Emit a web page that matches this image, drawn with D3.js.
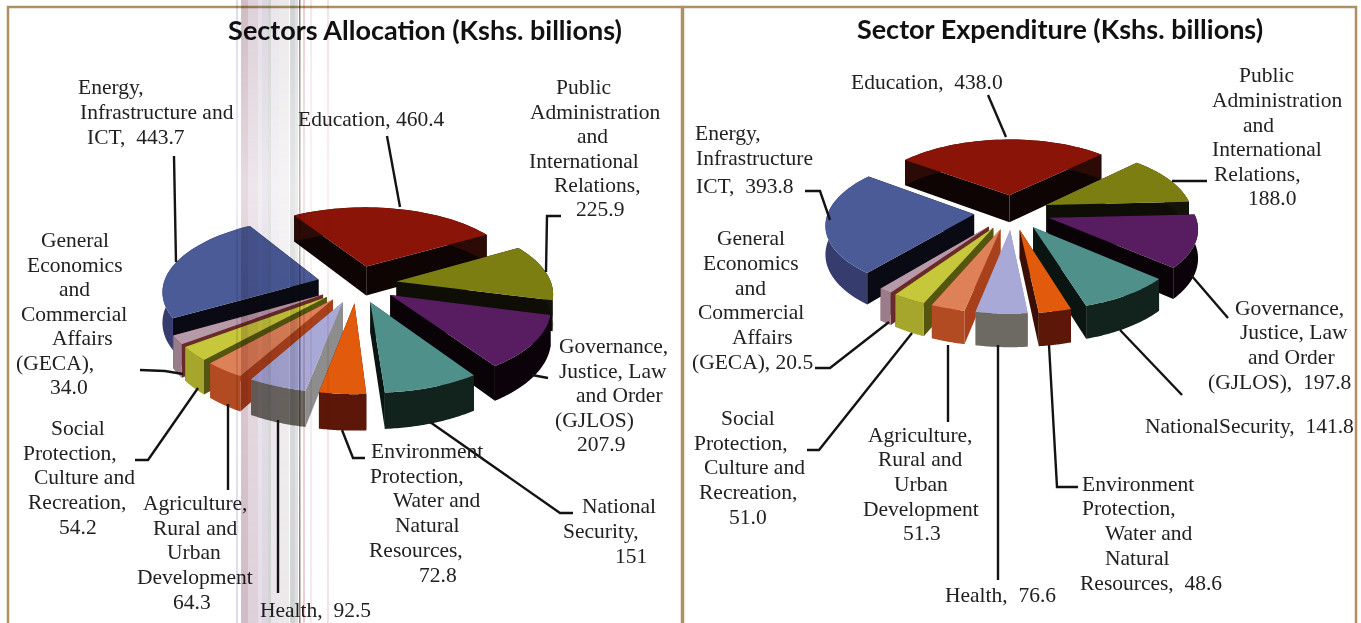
<!DOCTYPE html>
<html>
<head>
<meta charset="utf-8">
<title>Sectors Allocation and Expenditure</title>
<script src="https://cdnjs.cloudflare.com/ajax/libs/d3/7.8.5/d3.min.js"></script>
<style>
  html, body { margin: 0; padding: 0; background: #fff; overflow: hidden; }
  text { font-family: "Liberation Serif", serif; fill: #222020; }
  .title { font-family: Lato, sans-serif; font-weight: 700; fill: #111; }
</style>
</head>
<body>
<svg id="chart" width="1361" height="623"></svg>
<script>
// Data, clockwise from Education
const sectors = ['Education', 'Public Administration', 'Governance', 'National Security', 'Environment',
    'Health', 'Agriculture', 'Social Protection', 'GECA', 'Energy'];
const allocation = [460.4, 225.9, 207.9, 151, 72.8, 92.5, 64.3, 54.2, 34.0, 443.7];
const expenditure = [438.0, 188.0, 197.8, 141.8, 48.6, 76.6, 51.3, 51.0, 20.5, 393.8];

// Slice styles, same order as sectors
const topColors = ['#8a1407', '#7d7e12', '#581c60', '#50908a', '#e25a0c', '#a8a9d6', '#de8058', '#c6c73a', '#b79aa9', '#4a5b97'];
const sideColors = ['#0d0403', '#0e0e06', '#090207', '#0a1512', '#3c0f06', '#8d8d8d', '#a8401c', '#54560f', '#6b2a2a', '#0a0a14'];
const arcColors = ['#2c0b06', '#14140a', '#0b0309', '#12231d', '#5c1708', '#6d6963', '#b24a22', '#a5a62b', '#9b7c8b', '#363c6e'];

// Each label: lines of [text, x, baseline]
const leftLabels = [
    [['Energy,', 78, 94], ['Infrastructure and', 80, 119], ['ICT,  443.7', 87, 144]],
    [['Education, 460.4', 298, 126]],
    [['Public', 556, 94], ['Administration', 530, 119], ['and', 577, 143], ['International', 529, 168], ['Relations,', 554, 192], ['225.9', 576, 216]],
    [['General', 41, 247], ['Economics', 27, 272], ['and', 59, 296], ['Commercial', 21, 321], ['Affairs', 52, 345], ['(GECA),', 16, 370], ['34.0', 50, 394]],
    [['Social', 51, 435], ['Protection,', 23, 460], ['Culture and', 34, 484], ['Recreation,', 28, 509], ['54.2', 59, 534]],
    [['Agriculture,', 143, 510], ['Rural and', 153, 535], ['Urban', 167, 559], ['Development', 137, 584], ['64.3', 173, 609]],
    [['Health,  92.5', 260, 617]],
    [['Environment', 371, 458], ['Protection,', 370, 483], ['Water and', 393, 507], ['Natural', 395, 532], ['Resources,', 369, 557], ['72.8', 419, 582]],
    [['Governance,', 559, 353], ['Justice, Law', 559, 378], ['and Order', 576, 402], ['(GJLOS)', 555, 427], ['207.9', 577, 451]],
    [['National', 582, 513], ['Security,', 563, 538], ['151', 615, 563]]
];
const rightLabels = [
    [['Education,  438.0', 851, 89]],
    [['Public', 1239, 82], ['Administration', 1212, 107], ['and', 1243, 132], ['International', 1212, 156], ['Relations,', 1214, 181], ['188.0', 1248, 205]],
    [['Energy,', 695, 140], ['Infrastructure', 696, 165], ['ICT,  393.8', 696, 193]],
    [['General', 717, 245], ['Economics', 703, 270], ['and', 735, 295], ['Commercial', 698, 319], ['Affairs', 732, 344], ['(GECA), 20.5', 692, 369]],
    [['Social', 721, 425], ['Protection,', 694, 450], ['Culture and', 704, 474], ['Recreation,', 699, 499], ['51.0', 729, 524]],
    [['Agriculture,', 868, 442], ['Rural and', 878, 466], ['Urban', 894, 491], ['Development', 863, 516], ['51.3', 903, 540]],
    [['Health,  76.6', 945, 602]],
    [['Environment', 1082, 491], ['Protection,', 1082, 515], ['Water and', 1105, 540], ['Natural', 1105, 565], ['Resources,  48.6', 1080, 590]],
    [['Governance,', 1235, 315], ['Justice, Law', 1240, 339], ['and Order', 1248, 364], ['(GJLOS),  197.8', 1208, 389]],
    [['NationalSecurity,  141.8', 1145, 433]]
];

// Leader lines
const leftLeaders = [
    [[174, 156], [176, 262]], [[387, 136], [400, 207]], [[561, 216], [547, 216], [546, 272]],
    [[532, 375], [548, 378]], [[430, 422], [560, 513], [573, 513]], [[342, 430], [353, 458], [365, 458]],
    [[278, 420], [278, 593]], [[228, 404], [228, 490]], [[198, 388], [148, 460], [135, 460]],
    [[140, 370], [165, 371], [183, 374]]
];
const rightLeaders = [
    [[988, 95], [1006, 137]], [[1172, 181], [1207, 181]], [[805, 191], [820, 191], [830, 220]],
    [[1191, 275], [1228, 318]], [[1120, 330], [1182, 395]], [[1049, 345], [1057, 487], [1078, 487]],
    [[998, 345], [998, 580]], [[948, 345], [948, 422]], [[912, 333], [819, 450], [807, 450]],
    [[889, 322], [830, 368], [815, 368]]
];

// Ghost streaks from the scan: [x, width, colour, opacity]
const streaks = [
    [236, 2, '#c9c4de', 0.6], [241, 7, '#b0909c', 0.6], [248, 10, '#bda2b2', 0.5], [258, 4, '#d0c8da', 0.6],
    [262, 6, '#c0b5c6', 0.55], [268, 3, '#a2a8a0', 0.5], [271, 8, '#dbd3de', 0.6], [279, 10, '#e0dade', 0.6],
    [290, 5, '#b0b5b8', 0.6], [295, 3, '#c8c9d0', 0.6], [299, 1.5, '#85524a', 0.8], [303, 2, '#d8b0b5', 0.6],
    [310, 2, '#eed8dc', 0.6], [327, 2, '#eccfd5', 0.6]
];

const svg = d3.select('#chart');

// Streaks fade in the middle of the page
const defs = svg.append('defs');
const fade = defs.append('linearGradient').attr('id', 'streak-fade')
    .attr('gradientUnits', 'userSpaceOnUse')
    .attr('x1', 0).attr('y1', 0).attr('x2', 0).attr('y2', 623);
fade.append('stop').attr('offset', 0).attr('stop-color', '#fff');
fade.append('stop').attr('offset', 0.3).attr('stop-color', '#888');
fade.append('stop').attr('offset', 0.55).attr('stop-color', '#ccc');
fade.append('stop').attr('offset', 1).attr('stop-color', '#fff');
defs.append('mask').attr('id', 'streak-mask')
    .attr('maskUnits', 'userSpaceOnUse')
    .attr('x', 0).attr('y', 0).attr('width', 1361).attr('height', 623)
    .append('rect').attr('width', 1361).attr('height', 623).attr('fill', 'url(#streak-fade)');

// Panel frames
svg.append('rect').attr('width', 1361).attr('height', 623).attr('fill', '#fff');
[[7, 675], [682, 674]].forEach(([x, w]) => {
    svg.append('path')
        .attr('d', d3.line()([[x + 1, 640], [x + 1, 7], [x + w, 7], [x + w, 640]]))
        .attr('fill', 'none')
        .attr('stroke', '#b08f63')
        .attr('stroke-width', 2.5);
});

function drawPie(values, opt) {
    const g = svg.append('g');
    const pie = d3.pie().sort(null).value(d => d)
        .startAngle(opt.start * Math.PI / 180)
        .endAngle((opt.start + 360) * Math.PI / 180);
    const line = d3.line();

    // plane point (angle clockwise from the back, radius) to the screen
    const project = (ox, oz, a, r, h) => {
        const X = ox + r * Math.sin(a);
        const Z = oz - r * Math.cos(a);
        const s = opt.depth / (opt.depth - Z);
        return [opt.cx + X * s, opt.cy + (Z * opt.tilt + h) * s];
    };

    const slices = pie(values).map((d, i) => {
        const mid = (d.startAngle + d.endAngle) / 2;
        return {
            ...d, i, mid,
            ox: opt.explode * Math.sin(mid),
            oz: -opt.explode * Math.cos(mid)
        };
    });

    // back to front
    slices.sort((a, b) => a.oz - b.oz);

    slices.forEach(d => {
        const angles = d3.range(0, 41).map(k => d.startAngle + (d.endAngle - d.startAngle) * k / 40);
        const P = (a, r, h) => project(d.ox, d.oz, a, r, h);
        const tip = h => P(0, 0, h);
        const rim = h => angles.map(a => P(a, opt.R, h));
        const sg = g.append('g');

        // radial walls, farther one first
        const ends = [d.startAngle, d.endAngle].sort((a, b) => Math.cos(b) - Math.cos(a));
        ends.forEach(a => {
            sg.append('path')
                .attr('d', line([tip(0), P(a, opt.R, 0), P(a, opt.R, opt.H), tip(opt.H)]) + 'Z')
                .attr('fill', sideColors[d.i]);
        });
        // outer wall
        sg.append('path')
            .attr('d', line(rim(0).concat(rim(opt.H).reverse())) + 'Z')
            .attr('fill', arcColors[d.i]);
        // top face
        sg.append('path')
            .attr('d', line([tip(0)].concat(rim(0))) + 'Z')
            .attr('fill', topColors[d.i]);
    });

    // leaders
    g.selectAll('path.leader').data(opt.leaders).join('path')
        .attr('class', 'leader')
        .attr('d', d => line(d))
        .attr('fill', 'none')
        .attr('stroke', '#141212')
        .attr('stroke-width', 2.4);

    // labels
    opt.labels.forEach(lines => {
        g.append('g').selectAll('text').data(lines).join('text')
            .attr('x', d => d[1])
            .attr('y', d => d[2])
            .attr('font-size', 21.5)
            .style('white-space', 'pre')
            .text(d => d[0]);
    });

    svg.append('text')
        .attr('class', 'title')
        .attr('x', opt.titleX)
        .attr('y', opt.titleY)
        .attr('text-anchor', 'middle')
        .attr('font-size', 27)
        .text(opt.title);
}

drawPie(allocation, {
    title: 'Sectors Allocation (Kshs. billions)', titleX: 425, titleY: 40,
    cx: 357, cy: 284, R: 155, H: 30, tilt: 0.465, depth: 1100, explode: 40, start: -32,
    labels: leftLabels, leaders: leftLeaders
});
drawPie(expenditure, {
    title: 'Sector Expenditure (Kshs. billions)', titleX: 1060, titleY: 39,
    cx: 1012, cy: 212, R: 146, H: 28, tilt: 0.46, depth: 1100, explode: 38, start: -53,
    labels: rightLabels, leaders: rightLeaders
});

// Streaks sit over everything in the left panel
svg.append('g').attr('mask', 'url(#streak-mask)').style('mix-blend-mode', 'multiply')
    .selectAll('rect').data(streaks).join('rect')
    .attr('x', d => d[0])
    .attr('y', 0)
    .attr('width', d => d[1])
    .attr('height', 623)
    .attr('fill', d => d[2])
    .attr('opacity', d => d[3]);
</script>
</body>
</html>
